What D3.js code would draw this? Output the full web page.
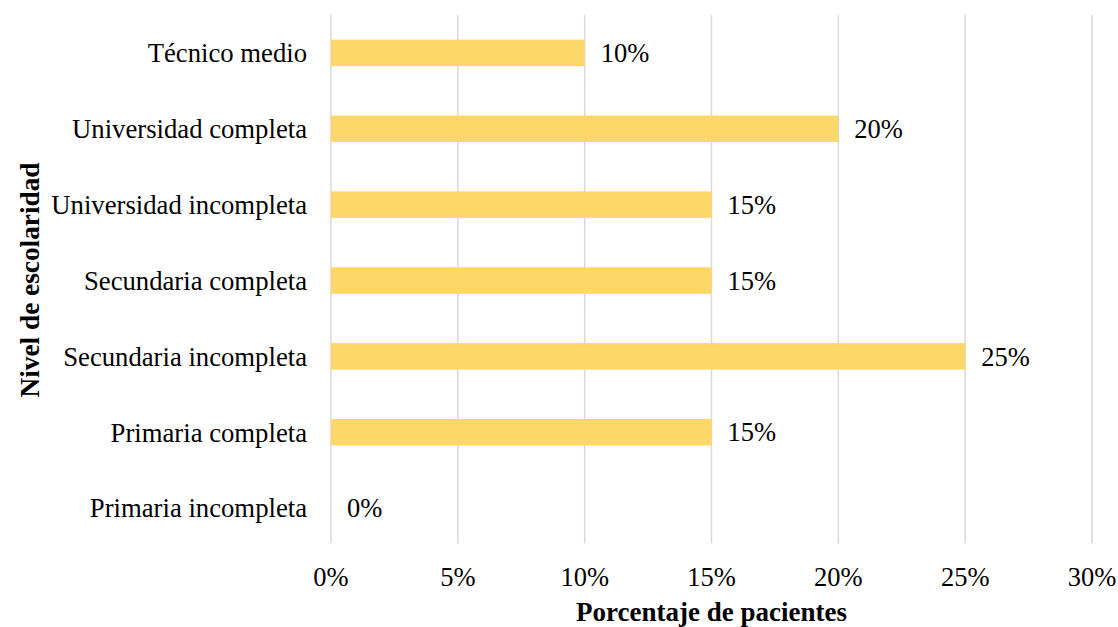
<!DOCTYPE html>
<html><head><meta charset="utf-8">
<script src="https://cdn.jsdelivr.net/npm/d3@7"></script>
<style>body{margin:0;background:#fff}svg{display:block}text{font-family:"Liberation Serif","Times New Roman",serif;fill:#000}</style>
</head><body><svg id="c" width="1118" height="627"></svg>
<script>
const categories = ["Técnico medio","Universidad completa","Universidad incompleta","Secundaria completa","Secundaria incompleta","Primaria completa","Primaria incompleta"];
const values = [10,20,15,15,25,15,0];
const ticks = [0,5,10,15,20,25,30];
const xTitle = "Porcentaje de pacientes";
const yTitle = "Nivel de escolaridad";

const svg = d3.select("#c");
const x = d3.scaleLinear().domain([0,30]).range([331,1092]);
const y = d3.scaleBand().domain(categories).range([15,546]).paddingInner(0.65).paddingOuter(0.325);

svg.append("g").selectAll("line").data(ticks).join("line")
  .attr("x1",d=>x(d)).attr("x2",d=>x(d)).attr("y1",15).attr("y2",543.5)
  .attr("stroke","#d9d9d9").attr("stroke-width",1.5);

svg.append("g").selectAll("rect").data(values).join("rect")
  .attr("x",x(0)).attr("y",(d,i)=>y(categories[i]))
  .attr("width",d=>x(d)-x(0)).attr("height",y.bandwidth())
  .attr("fill","#FDD868");

svg.append("g").selectAll("text").data(values).join("text")
  .attr("x",d=>x(d)+16).attr("y",(d,i)=>y(categories[i])+y.bandwidth()/2)
  .attr("dy","0.35em").attr("font-size",26.5).text(d=>d+"%");

svg.append("g").selectAll("text").data(categories).join("text")
  .attr("x",307).attr("y",d=>y(d)+y.bandwidth()/2).attr("dy","0.35em")
  .attr("text-anchor","end").attr("font-size",26.7).text(d=>d);

svg.append("g").selectAll("text").data(ticks).join("text")
  .attr("x",d=>x(d)).attr("y",577).attr("dy","0.35em")
  .attr("text-anchor","middle").attr("font-size",26.5).text(d=>d+"%");

svg.append("text").attr("x",x(15)-0).attr("y",621).attr("text-anchor","middle")
  .attr("font-size",27).attr("font-weight","bold").text(xTitle);

svg.append("text").attr("transform","translate(39,280) rotate(-90)").attr("text-anchor","middle")
  .attr("font-size",27.3).attr("font-weight","bold").text(yTitle);
</script></body></html>
